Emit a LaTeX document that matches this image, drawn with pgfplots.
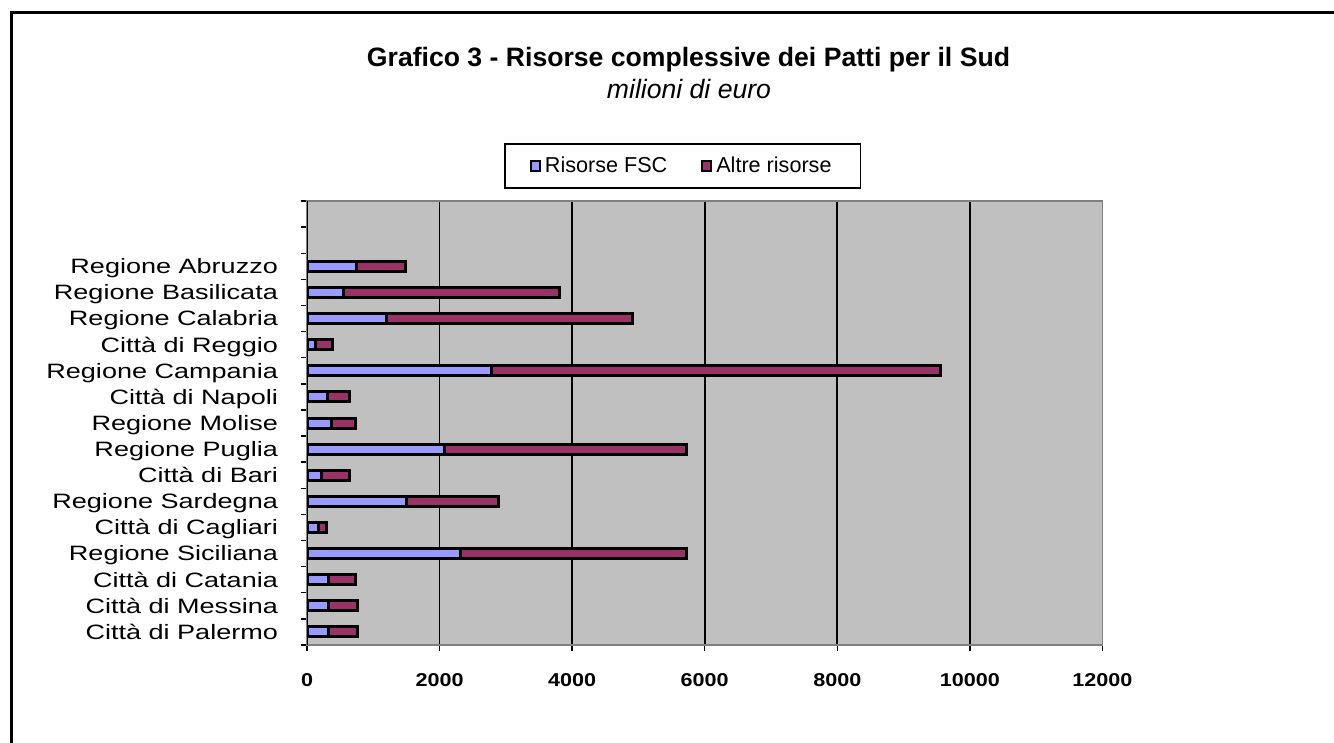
\documentclass[border=0pt]{standalone}
\usepackage{fontspec}
\setmainfont{Liberation Sans}
\usepackage{graphicx}
\usepackage{pgfplots}
\pgfplotsset{compat=1.18}
\definecolor{bgGray}{HTML}{C0C0C0}
\definecolor{axGray}{HTML}{808080}
\definecolor{fsc}{HTML}{9999FF}
\definecolor{altre}{HTML}{993366}
\newcommand{\yl}[1]{\scalebox{1.3}[1]{#1}}
\newcommand{\xl}[1]{\scalebox{1.16}[1]{#1}}
\begin{document}
\begin{tikzpicture}
\useasboundingbox (0,0) rectangle (667bp,-371.5bp);
\begin{scope}
\clip (0,0) rectangle (667bp,-371.5bp);
\draw[line width=1.5bp] (5.5bp,-6bp) rectangle (700bp,-400bp);
\end{scope}
\node[anchor=base, font=\bfseries\fontsize{13.3bp}{16bp}\selectfont] at (344.25bp,-33.25bp) {Grafico 3 - Risorse complessive dei Patti per il Sud};
\node[anchor=base, font=\itshape\fontsize{13.3bp}{16bp}\selectfont] at (344.5bp,-49bp) {milioni di euro};
\begin{axis}[
  at={(153.5bp,-322.5bp)}, anchor=south west,
  width=397.7bp, height=222bp, scale only axis,
  xmin=0, xmax=12000, ymin=0.5, ymax=17.5,
  xbar stacked, bar width=5bp,
  axis background/.style={fill=bgGray},
  axis line style={draw=axGray, line width=0.8bp},
  xmajorgrids, grid style={black, line width=0.85bp},
  scaled x ticks=false,
  xtick={0,2000,4000,6000,8000,10000,12000},
  xticklabels={\xl{0},\xl{2000},\xl{4000},\xl{6000},\xl{8000},\xl{10000},\xl{12000}},
  xticklabel style={anchor=north, inner sep=0pt, yshift=-11.15bp, font=\bfseries\fontsize{9.3bp}{11bp}\selectfont},
  ytick={1,2,3,4,5,6,7,8,9,10,11,12,13,14,15},
  yticklabels={\yl{Città di Palermo},\yl{Città di Messina},\yl{Città di Catania},\yl{Regione Siciliana},\yl{Città di Cagliari},\yl{Regione Sardegna},\yl{Città di Bari},\yl{Regione Puglia},\yl{Regione Molise},\yl{Città di Napoli},\yl{Regione Campania},\yl{Città di Reggio},\yl{Regione Calabria},\yl{Regione Basilicata},\yl{Regione Abruzzo}},
  yticklabel style={anchor=base east, inner sep=0pt, xshift=-11.35bp, yshift=-3.7bp, font=\fontsize{10.4bp}{12bp}\selectfont},
  minor ytick={0.5,1.5,2.5,3.5,4.5,5.5,6.5,7.5,8.5,9.5,10.5,11.5,12.5,13.5,14.5,15.5,16.5,17.5},
  tick align=outside, tick pos=left,
  major tick length=3bp, minor tick length=3.2bp,
  tick style={black, line width=0.7bp},
  every major y tick/.append style={draw opacity=0},
  legend columns=2,
  legend style={at={(0.4724,1.0788)}, anchor=center, draw=black, line width=0.9bp, fill=white,
    inner xsep=12.5bp, inner ysep=4.3bp,
    font=\fontsize{10.8bp}{12bp}\selectfont,
    /tikz/every even column/.append style={column sep=15bp}},
  legend cell align=left,
]
\addplot[fill=fsc, draw=black, line width=1.5bp,
  legend image code/.code={\draw[fill=fsc, draw=black, line width=1bp] (0bp,-2.7bp) rectangle (4.5bp,2.7bp);}]
  coordinates {(329,1) (329,2) (327,3) (2319,4) (166,5) (1504,6) (226,7) (2067,8) (377,9) (302,10) (2782,11) (131,12) (1192,13) (554,14) (745,15)};
\addlegendentry{Risorse FSC}
\addplot[fill=altre, draw=black, line width=1.5bp,
  legend image code/.code={\draw[fill=altre, draw=black, line width=1bp] (0bp,-2.7bp) rectangle (4.5bp,2.7bp);}]
  coordinates {(436,1) (436,2) (398,3) (3406,4) (132,5) (1391,6) (419,7) (3658,8) (348,9) (333,10) (6768,11) (261,12) (3723,13) (3261,14) (747,15)};
\addlegendentry{Altre risorse}
\draw[black, line width=0.9bp] (rel axis cs:0,0) -- (rel axis cs:0,1);
\end{axis}
\end{tikzpicture}
\end{document}
